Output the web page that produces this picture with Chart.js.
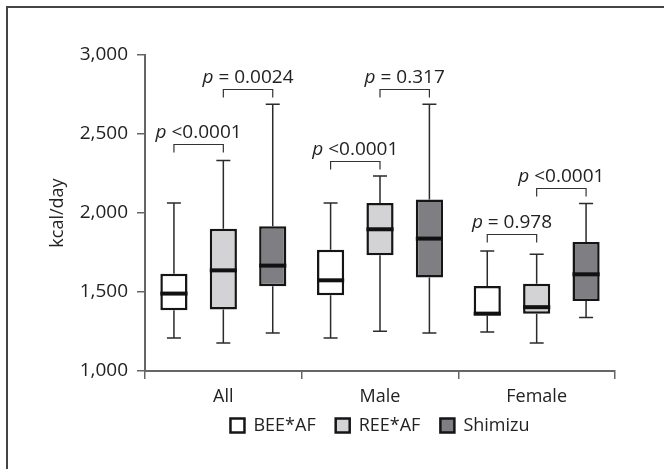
<!DOCTYPE html>
<html>
<head>
<meta charset="utf-8">
<script src="https://cdn.jsdelivr.net/npm/chart.js@4.4.0/dist/chart.umd.min.js"></script>
<style>
  html, body { margin: 0; padding: 0; background: #fff; overflow: hidden; }
  #boxChart { display: block; }
</style>
</head>
<body>
<canvas id="boxChart" width="664" height="469"></canvas>
<script>
const boxChart = document.getElementById('boxChart');

const categories = ['All', 'Male', 'Female'];
const seriesNames = ['BEE*AF', 'REE*AF', 'Shimizu'];
const yTicks = [1000, 1500, 2000, 2500, 3000];

// box plot values per group: min, q1, median, q3, max
const bee_min = [1209, 1209, 1247];
const bee_q1 = [1384, 1479, 1352];
const bee_median = [1490, 1574, 1363];
const bee_q3 = [1616, 1768, 1538];
const bee_max = [2063, 2063, 1759];

const ree_min = [1177, 1251, 1177];
const ree_q1 = [1390, 1732, 1363];
const ree_median = [1637, 1897, 1404];
const ree_q3 = [1901, 2063, 1553];
const ree_max = [2333, 2234, 1739];

const shimizu_min = [1240, 1240, 1338];
const shimizu_q1 = [1536, 1591, 1443];
const shimizu_median = [1667, 1838, 1612];
const shimizu_q3 = [1916, 2085, 1816];
const shimizu_max = [2688, 2688, 2060];

// p-value brackets: group index, from series, to series, height, text
const bracket_group = [0, 0, 1, 1, 2, 2];
const bracket_from = [0, 1, 0, 1, 0, 1];
const bracket_to = [1, 2, 1, 2, 1, 2];
const bracket_value = [2439, 2785, 2327, 2785, 1870, 2158];
const bracket_text = ['<0.0001', '= 0.0024', '<0.0001', '= 0.317', '= 0.978', '<0.0001'];

const mins = [bee_min, ree_min, shimizu_min];
const q1s = [bee_q1, ree_q1, shimizu_q1];
const medians = [bee_median, ree_median, shimizu_median];
const q3s = [bee_q3, ree_q3, shimizu_q3];
const maxs = [bee_max, ree_max, shimizu_max];

const fills = ['#ffffff', '#d3d3d5', '#7f7f83'];
const FONT = "'Open Sans', 'Noto Sans', sans-serif";
const TEXT = '#222';
const AXIS = '#666';

// figure frame, only top and left edges are inside the picture
const framePlugin = {
  id: 'frame',
  beforeDraw(chart) {
    const ctx = chart.ctx;
    ctx.save();
    ctx.fillStyle = '#fff';
    ctx.fillRect(0, 0, chart.width, chart.height);
    ctx.strokeStyle = '#444';
    ctx.lineWidth = 2;
    ctx.beginPath();
    ctx.moveTo(7, chart.height);
    ctx.lineTo(7, 7);
    ctx.lineTo(chart.width, 7);
    ctx.stroke();
    ctx.restore();
  }
};

const whiskerPlugin = {
  id: 'whiskers',
  beforeDatasetsDraw(chart) {
    const ctx = chart.ctx;
    const y = chart.scales.y;
    ctx.save();
    ctx.strokeStyle = '#2b2b2b';
    ctx.lineWidth = 1.5;
    chart.data.datasets.forEach((ds, i) => {
      chart.getDatasetMeta(i).data.forEach((el, j) => {
        const x = el.x;
        const yMax = y.getPixelForValue(maxs[i][j]);
        const yMin = y.getPixelForValue(mins[i][j]);
        ctx.beginPath();
        ctx.moveTo(x, yMax); ctx.lineTo(x, y.getPixelForValue(q3s[i][j]));
        ctx.moveTo(x, yMin); ctx.lineTo(x, y.getPixelForValue(q1s[i][j]));
        ctx.moveTo(x - 7, yMax); ctx.lineTo(x + 7, yMax);
        ctx.moveTo(x - 7, yMin); ctx.lineTo(x + 7, yMin);
        ctx.stroke();
      });
    });
    ctx.restore();
  },
  afterDatasetsDraw(chart) {
    const ctx = chart.ctx;
    const y = chart.scales.y;
    ctx.save();
    ctx.strokeStyle = '#111';
    ctx.lineWidth = 4;
    chart.data.datasets.forEach((ds, i) => {
      chart.getDatasetMeta(i).data.forEach((el, j) => {
        const ym = y.getPixelForValue(medians[i][j]);
        ctx.beginPath();
        ctx.moveTo(el.x - el.width / 2, ym);
        ctx.lineTo(el.x + el.width / 2, ym);
        ctx.stroke();
      });
    });
    ctx.restore();
  }
};

const bracketPlugin = {
  id: 'brackets',
  afterLayout(chart) {
    // pull the legend up under the category labels
    chart.legend.top -= 18;
    chart.legend.bottom -= 18;
  },
  afterDraw(chart) {
    const ctx = chart.ctx;
    const y = chart.scales.y;
    ctx.save();
    bracket_group.forEach((g, k) => {
      const x1 = chart.getDatasetMeta(bracket_from[k]).data[g].x;
      const x2 = chart.getDatasetMeta(bracket_to[k]).data[g].x;
      const yb = Math.round(y.getPixelForValue(bracket_value[k])) + 0.5;
      ctx.strokeStyle = '#333';
      ctx.lineWidth = 1.2;
      ctx.beginPath();
      ctx.moveTo(x1, yb + 8); ctx.lineTo(x1, yb); ctx.lineTo(x2, yb); ctx.lineTo(x2, yb + 8);
      ctx.stroke();

      const rest = ' ' + bracket_text[k];
      ctx.font = 'italic 19px ' + FONT;
      const wp = ctx.measureText('p').width;
      ctx.font = '19px ' + FONT;
      const wr = ctx.measureText(rest).width;
      let tx = (x1 + x2) / 2 - (wp + wr) / 2;
      ctx.fillStyle = TEXT;
      ctx.textBaseline = 'alphabetic';
      ctx.textAlign = 'left';
      ctx.font = 'italic 19px ' + FONT;
      ctx.fillText('p', tx, yb - 7);
      ctx.font = '19px ' + FONT;
      ctx.fillText(rest, tx + wp, yb - 7);
    });
    ctx.restore();
  }
};

const datasets = seriesNames.map((name, i) => ({
  label: name,
  data: categories.map((c, j) => [q1s[i][j], q3s[i][j]]),
  backgroundColor: fills[i],
  borderColor: '#151515',
  borderWidth: 2.5,
  borderSkipped: false,
  categoryPercentage: 0.946,
  barPercentage: 0.55
}));

var ctx = boxChart.getContext('2d');
var myChart = new Chart(ctx, {
  type: 'bar',
  data: {
    labels: categories,
    datasets: datasets
  },
  options: {
    responsive: false,
    animation: false,
    devicePixelRatio: 1,
    layout: {
      padding: { left: 0, top: 55, right: 49, bottom: 6.4 }
    },
    plugins: {
      tooltip: { enabled: false },
      legend: {
        position: 'bottom',
        fullSize: false,
        labels: {
          boxWidth: 14,
          boxHeight: 14,
          padding: 20,
          color: TEXT,
          font: { family: FONT, size: 18 }
        }
      }
    },
    scales: {
      x: {
        grid: {
          offset: true,
          drawOnChartArea: false,
          tickLength: 8,
          color: AXIS,
          lineWidth: 1.5
        },
        border: { display: true, color: AXIS, width: 2 },
        ticks: {
          color: TEXT,
          padding: 7,
          font: { family: FONT, size: 18 }
        }
      },
      y: {
        min: 1000,
        max: 3000,
        grid: {
          drawOnChartArea: false,
          tickLength: 8,
          color: AXIS,
          lineWidth: 1.5
        },
        border: { display: true, color: AXIS, width: 2 },
        afterBuildTicks: (s) => { s.ticks = yTicks.map(v => ({ value: v })); },
        ticks: {
          color: TEXT,
          padding: 9,
          font: { family: FONT, size: 19 },
          callback: (v) => v.toLocaleString('en-US')
        },
        title: {
          display: true,
          text: 'kcal/day',
          color: TEXT,
          padding: { top: 47, bottom: 0 },
          font: { family: FONT, size: 18 }
        },
        afterFit: (s) => { s.width = 145; }
      }
    }
  },
  plugins: [framePlugin, whiskerPlugin, bracketPlugin]
});
</script>
</body>
</html>
